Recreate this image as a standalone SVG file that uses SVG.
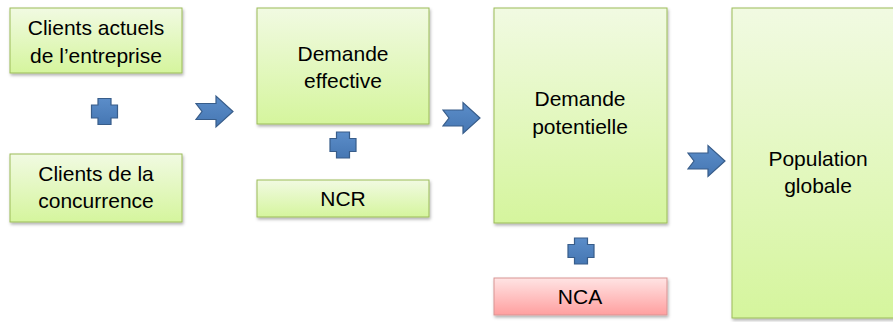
<svg xmlns="http://www.w3.org/2000/svg" width="893" height="322" viewBox="0 0 893 322">
<style>
.box{fill:url(#g);stroke:#9bbb59;stroke-width:1;filter:url(#sh)}
.red{fill:url(#r);stroke:#d99594;stroke-width:1;filter:url(#sh)}
.t{font-family:"Liberation Sans",Arial,sans-serif;font-size:21px;fill:#000;text-anchor:middle}
.sym{fill:url(#b);stroke:#385d8a;stroke-width:1.2}
</style>
<defs>
<linearGradient id="g" x1="0" y1="0" x2="0" y2="1"><stop offset="0" stop-color="#f1fae2"/><stop offset="1" stop-color="#d5f59d"/></linearGradient>
<linearGradient id="r" x1="0" y1="0" x2="0" y2="1"><stop offset="0" stop-color="#ffe4e4"/><stop offset="1" stop-color="#ff9f9f"/></linearGradient>
<linearGradient id="b" x1="0" y1="0" x2="0" y2="1"><stop offset="0" stop-color="#5b8dc9"/><stop offset="1" stop-color="#4677b3"/></linearGradient>
<filter id="sh" x="-10%" y="-10%" width="120%" height="130%"><feDropShadow dx="1" dy="2" stdDeviation="1.5" flood-color="#000" flood-opacity="0.3"/></filter>
<path id="plus" d="M-6.5,-13 H6.5 V-6.5 H13 V6.5 H6.5 V13 H-6.5 V6.5 H-13 V-6.5 H-6.5 Z"/>
<path id="arr" d="M0,-8 H20 V-15.5 L37,0 L20,15.5 V8 H0 L6,0 Z"/>
</defs>
<g id="clients-actuels"><rect class="box" x="10" y="8" width="172" height="65"/><text class="t" x="96" y="35">Clients actuels</text><text class="t" x="96" y="63">de l’entreprise</text></g>
<g id="clients-concurrence"><rect class="box" x="10" y="154" width="172" height="68"/><text class="t" x="96" y="181">Clients de la</text><text class="t" x="96" y="208">concurrence</text></g>
<g id="demande-effective"><rect class="box" x="257" y="8" width="172" height="116"/><text class="t" x="343" y="61">Demande</text><text class="t" x="343" y="88">effective</text></g>
<g id="ncr"><rect class="box" x="257" y="180" width="172" height="37"/><text class="t" x="343" y="206">NCR</text></g>
<g id="demande-potentielle"><rect class="box" x="494" y="8" width="173" height="215"/><text class="t" x="580" y="106">Demande</text><text class="t" x="580" y="134">potentielle</text></g>
<g id="nca"><rect class="red" x="494" y="278" width="173" height="37"/><text class="t" x="580" y="304">NCA</text></g>
<g id="population-globale"><rect class="box" x="732" y="8" width="175" height="310"/><text class="t" x="818" y="166">Population</text><text class="t" x="818" y="193">globale</text></g>
<g id="connectors">
<use href="#plus" class="sym" transform="translate(104.5,111.5)"/>
<use href="#plus" class="sym" transform="translate(343,145)"/>
<use href="#plus" class="sym" transform="translate(581,251)"/>
<use href="#arr" class="sym" transform="translate(196,111.5)"/>
<use href="#arr" class="sym" transform="translate(443,118)"/>
<use href="#arr" class="sym" transform="translate(688,161)"/>
</g>
</svg>
